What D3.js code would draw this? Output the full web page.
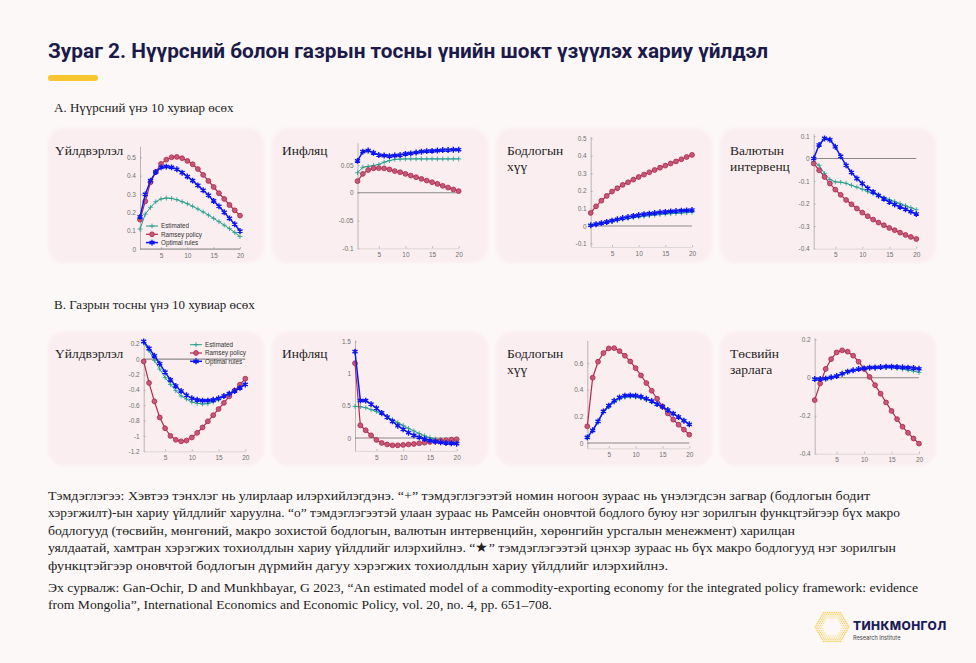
<!DOCTYPE html>
<html>
<head>
<meta charset="utf-8">
<script src="https://cdn.jsdelivr.net/npm/d3@7"></script>
<style>
  body { margin: 0; background: #fcf8f8; }
  svg { display: block; }
</style>
</head>
<body>
<svg id="chart"></svg>
<script>
// Quarters on the horizontal axis
const quarters = [1, 2, 3, 4, 5, 6, 7, 8, 9, 10, 11, 12, 13, 14, 15, 16, 17, 18, 19, 20];
const xTicks = [5, 10, 15, 20];
const seriesNames = ["Estimated", "Ramsey policy", "Optimal rules"];

// A. Coal price shock
const outCoalEst = [0.109, 0.19, 0.227, 0.258, 0.273, 0.278, 0.276, 0.269, 0.258, 0.247, 0.233, 0.218, 0.202, 0.185, 0.167, 0.149, 0.13, 0.111, 0.09, 0.068];
const outCoalRam = [0.16, 0.26, 0.364, 0.42, 0.464, 0.487, 0.5, 0.502, 0.495, 0.48, 0.462, 0.436, 0.404, 0.371, 0.338, 0.304, 0.273, 0.24, 0.211, 0.182];
const outCoalOpt = [0.175, 0.298, 0.373, 0.42, 0.445, 0.449, 0.445, 0.435, 0.416, 0.395, 0.373, 0.347, 0.32, 0.293, 0.262, 0.233, 0.2, 0.167, 0.135, 0.098];

const infCoalEst = [0.036, 0.046, 0.0475, 0.049, 0.051, 0.055, 0.058, 0.06, 0.0606, 0.061, 0.061, 0.061, 0.061, 0.061, 0.061, 0.061, 0.061, 0.061, 0.061, 0.061];
const infCoalRam = [0.021, 0.034, 0.041, 0.044, 0.0444, 0.044, 0.042, 0.039, 0.037, 0.034, 0.031, 0.028, 0.025, 0.022, 0.019, 0.016, 0.0125, 0.0094, 0.006, 0.003];
const infCoalOpt = [0.0575, 0.074, 0.076, 0.072, 0.068, 0.067, 0.066, 0.067, 0.068, 0.07, 0.071, 0.0725, 0.074, 0.075, 0.0755, 0.076, 0.077, 0.077, 0.0775, 0.0775];

const rateCoalEst = [0.003, 0.008, 0.013, 0.019, 0.025, 0.031, 0.037, 0.042, 0.047, 0.051, 0.055, 0.059, 0.062, 0.065, 0.068, 0.07, 0.072, 0.074, 0.076, 0.078];
const rateCoalRam = [0.074, 0.112, 0.144, 0.171, 0.196, 0.215, 0.234, 0.249, 0.264, 0.279, 0.293, 0.306, 0.319, 0.332, 0.344, 0.356, 0.368, 0.38, 0.393, 0.405];
const rateCoalOpt = [0.004, 0.01, 0.016, 0.023, 0.03, 0.038, 0.045, 0.051, 0.057, 0.062, 0.067, 0.07, 0.074, 0.078, 0.08, 0.083, 0.085, 0.087, 0.089, 0.091];

const fxCoalEst = [-0.015, -0.03, -0.067, -0.093, -0.104, -0.105, -0.11, -0.119, -0.127, -0.136, -0.147, -0.156, -0.164, -0.173, -0.182, -0.191, -0.2, -0.209, -0.218, -0.227];
const fxCoalRam = [-0.022, -0.052, -0.082, -0.111, -0.138, -0.161, -0.184, -0.203, -0.222, -0.24, -0.256, -0.271, -0.284, -0.296, -0.308, -0.318, -0.329, -0.339, -0.348, -0.357];
const fxCoalOpt = [0, 0.06, 0.089, 0.083, 0.052, 0.01, -0.03, -0.062, -0.089, -0.111, -0.132, -0.148, -0.164, -0.179, -0.193, -0.204, -0.215, -0.225, -0.236, -0.246];

// B. Oil price shock
const outOilEst = [0.21, 0.11, -0.017, -0.13, -0.24, -0.33, -0.41, -0.48, -0.52, -0.56, -0.575, -0.585, -0.58, -0.56, -0.53, -0.49, -0.445, -0.4, -0.36, -0.315];
const outOilRam = [-0.03, -0.31, -0.55, -0.76, -0.9, -1.0, -1.05, -1.07, -1.06, -1.02, -0.96, -0.89, -0.81, -0.73, -0.65, -0.57, -0.485, -0.41, -0.333, -0.255];
const outOilOpt = [0.23, 0.14, 0.043, -0.06, -0.17, -0.27, -0.35, -0.415, -0.47, -0.51, -0.53, -0.54, -0.54, -0.53, -0.51, -0.48, -0.45, -0.415, -0.375, -0.33];

const infOilEst = [0.49, 0.485, 0.47, 0.44, 0.41, 0.37, 0.33, 0.285, 0.24, 0.195, 0.15, 0.11, 0.07, 0.035, 0.005, -0.015, -0.03, -0.04, -0.045, -0.05];
const infOilRam = [1.16, 0.196, 0.12, 0.041, -0.03, -0.077, -0.1, -0.113, -0.113, -0.108, -0.1, -0.093, -0.082, -0.072, -0.062, -0.052, -0.041, -0.036, -0.026, -0.02];
const infOilOpt = [1.34, 0.58, 0.58, 0.526, 0.464, 0.39, 0.325, 0.258, 0.19, 0.134, 0.082, 0.041, 0.01, -0.015, -0.04, -0.057, -0.067, -0.077, -0.082, -0.088];

const rateOilEst = [0.04, 0.09, 0.155, 0.23, 0.27, 0.305, 0.33, 0.343, 0.347, 0.345, 0.338, 0.325, 0.308, 0.288, 0.268, 0.245, 0.22, 0.195, 0.168, 0.14];
const rateOilRam = [0.125, 0.49, 0.61, 0.675, 0.71, 0.712, 0.69, 0.655, 0.612, 0.562, 0.507, 0.45, 0.392, 0.332, 0.275, 0.222, 0.175, 0.137, 0.1, 0.062];
const rateOilOpt = [0.042, 0.095, 0.162, 0.237, 0.28, 0.317, 0.342, 0.355, 0.357, 0.355, 0.347, 0.332, 0.315, 0.292, 0.272, 0.247, 0.22, 0.195, 0.167, 0.14];

const govOilEst = [-0.007, -0.007, -0.004, 0.002, 0.01, 0.02, 0.03, 0.038, 0.044, 0.048, 0.05, 0.052, 0.053, 0.053, 0.052, 0.049, 0.045, 0.04, 0.035, 0.028];
const govOilRam = [-0.118, -0.03, 0.046, 0.098, 0.133, 0.144, 0.137, 0.116, 0.084, 0.046, 0.004, -0.039, -0.084, -0.13, -0.175, -0.218, -0.258, -0.29, -0.32, -0.347];
const govOilOpt = [-0.007, -0.007, -0.005, 0.002, 0.009, 0.021, 0.032, 0.039, 0.046, 0.049, 0.053, 0.054, 0.056, 0.058, 0.058, 0.057, 0.055, 0.053, 0.051, 0.047];

// Y tick values
const ticksOutCoal = [0, 0.1, 0.2, 0.3, 0.4, 0.5];
const ticksInfCoal = [-0.1, -0.05, 0, 0.05];
const ticksRateCoal = [-0.1, 0, 0.1, 0.2, 0.3, 0.4, 0.5];
const ticksFxCoal = [-0.4, -0.3, -0.2, -0.1, 0, 0.1];
const ticksOutOil = [-1.2, -1, -0.8, -0.6, -0.4, -0.2, 0, 0.2];
const ticksInfOil = [0, 0.5, 1, 1.5];
const ticksRateOil = [0, 0.2, 0.4, 0.6];
const ticksGovOil = [-0.4, -0.2, 0, 0.2];

const width = 976, height = 663;
const colors = { est: "#1f9d8b", ram: "#b3294f", opt: "#0b16f2" };

const svg = d3.select("#chart")
    .attr("width", width)
    .attr("height", height);

svg.append("rect").attr("width", width).attr("height", height).attr("fill", "#fcf8f8");

// Title and yellow bar
svg.append("text")
    .attr("x", 48).attr("y", 58)
    .attr("textLength", 720).attr("lengthAdjust", "spacingAndGlyphs")
    .style("font-family", "Roboto, 'Liberation Sans', sans-serif")
    .style("font-weight", 700).style("font-size", "21px")
    .attr("fill", "#1b1a48")
    .text("Зураг 2. Нүүрсний болон газрын тосны үнийн шокт үзүүлэх хариу үйлдэл");

svg.append("rect")
    .attr("x", 48).attr("y", 75).attr("width", 50).attr("height", 6).attr("rx", 3)
    .attr("fill", "#f7c631");

const serif = "'Liberation Serif', 'DejaVu Serif', serif";

svg.append("text").attr("x", 54).attr("y", 112)
    .style("font-family", serif).style("font-size", "13px").attr("fill", "#222")
    .text("A. Нүүрсний үнэ 10 хувиар өсөх");
svg.append("text").attr("x", 54).attr("y", 309)
    .style("font-family", serif).style("font-size", "13px").attr("fill", "#222")
    .text("B. Газрын тосны үнэ 10 хувиар өсөх");

// Panel layout: card corner, label, pixel box of the plot, y domain
const panels = [
    { card: [48, 128], label: ["Үйлдвэрлэл"], lx: 7, xr: [140, 240], yr: [249, 146.3], dom: [0, 0.56], ticks: ticksOutCoal,
      data: [outCoalEst, outCoalRam, outCoalOpt], legend: [146, 226] },
    { card: [272, 128], label: ["Инфляц"], lx: 10, xr: [357.5, 458.7], yr: [248.3, 142.8], dom: [-0.1, 0.09], ticks: ticksInfCoal,
      data: [infCoalEst, infCoalRam, infCoalOpt] },
    { card: [496, 128], label: ["Бодлогын", "хүү"], lx: 11, xr: [590.7, 692], yr: [247, 136.5], dom: [-0.12, 0.51], ticks: ticksRateCoal,
      data: [rateCoalEst, rateCoalRam, rateCoalOpt] },
    { card: [720, 128], label: ["Валютын", "интервенц"], lx: 10, xr: [813.7, 916.3], yr: [248.7, 133.7], dom: [-0.4, 0.11], ticks: ticksFxCoal,
      data: [fxCoalEst, fxCoalRam, fxCoalOpt] },
    { card: [48, 331], label: ["Үйлдвэрлэл"], lx: 7, xr: [143.7, 245.3], yr: [451.3, 339.9], dom: [-1.2, 0.25], ticks: ticksOutOil,
      data: [outOilEst, outOilRam, outOilOpt], legend: [190, 344.7] },
    { card: [272, 331], label: ["Инфляц"], lx: 10, xr: [355, 456.7], yr: [450.9, 340], dom: [-0.2, 1.52], ticks: ticksInfOil,
      data: [infOilEst, infOilRam, infOilOpt] },
    { card: [496, 331], label: ["Бодлогын", "хүү"], lx: 11, xr: [587.3, 689.3], yr: [448.3, 340.4], dom: [-0.04, 0.77], ticks: ticksRateOil,
      data: [rateOilEst, rateOilRam, rateOilOpt] },
    { card: [720, 331], label: ["Төсвийн", "зарлага"], lx: 10, xr: [814.7, 919], yr: [453.7, 337.8], dom: [-0.4, 0.21], ticks: ticksGovOil,
      data: [govOilEst, govOilRam, govOilOpt] }
];

const cardW = 216, cardH = 135;

// soft edge for the cards
const defs = svg.append("defs");
defs.append("filter").attr("id", "soft")
    .attr("x", "-10%").attr("y", "-10%").attr("width", "120%").attr("height", "120%")
    .append("feGaussianBlur").attr("stdDeviation", 1.5);

const asterisk = d3.symbolAsterisk || d3.symbolCross;
const plus = d3.symbolPlus || d3.symbolCross;

function drawMarkers(g, pts, kind, x, y) {
    if (kind === 0) {
        g.selectAll(null).data(pts).enter().append("path")
            .attr("transform", d => `translate(${x(d[0])},${y(d[1])})`)
            .attr("d", d3.symbol().type(plus).size(9))
            .attr("fill", "none").attr("stroke", colors.est).attr("stroke-width", 0.8);
    } else if (kind === 1) {
        g.selectAll(null).data(pts).enter().append("circle")
            .attr("cx", d => x(d[0])).attr("cy", d => y(d[1])).attr("r", 2.4)
            .attr("fill", "#c25a78").attr("stroke", colors.ram).attr("stroke-width", 0.9);
    } else {
        g.selectAll(null).data(pts).enter().append("path")
            .attr("transform", d => `translate(${x(d[0])},${y(d[1])})`)
            .attr("d", d3.symbol().type(asterisk).size(24))
            .attr("fill", colors.opt).attr("stroke", colors.opt).attr("stroke-width", 1.4);
    }
}

panels.forEach(p => {
    const g = svg.append("g");
    const [cx, cy] = p.card;

    g.append("rect")
        .attr("x", cx).attr("y", cy).attr("width", cardW).attr("height", cardH).attr("rx", 16)
        .attr("fill", "#fbeef0").attr("filter", "url(#soft)");

    p.label.forEach((t, i) => {
        g.append("text")
            .attr("x", cx + p.lx).attr("y", cy + 27 + i * 16)
            .style("font-family", serif).style("font-size", "13.5px").attr("fill", "#1e1e1e")
            .text(t);
    });

    const x = d3.scaleLinear().domain([1, 20]).range(p.xr);
    const y = d3.scaleLinear().domain(p.dom).range(p.yr);

    // axes
    const yAxis = g.append("g")
        .attr("transform", `translate(${p.xr[0]},0)`)
        .call(d3.axisLeft(y).tickValues(p.ticks).tickSizeInner(-2).tickSizeOuter(0).tickPadding(4)
            .tickFormat(d => String(+d.toFixed(3))));
    const xAxis = g.append("g")
        .attr("transform", `translate(0,${p.yr[0]})`)
        .call(d3.axisBottom(x).tickValues(xTicks).tickSizeInner(-2).tickSizeOuter(0).tickPadding(4));

    [yAxis, xAxis].forEach(a => {
        a.select(".domain").attr("stroke", "#a9a6a6").attr("stroke-width", 0.8);
        a.selectAll(".tick line").attr("stroke", "#a9a6a6").attr("stroke-width", 0.7);
        a.selectAll("text")
            .style("font-family", "'Liberation Sans', Arial, sans-serif")
            .style("font-size", "6.5px").attr("fill", "#707070");
    });
    xAxis.select(".domain").attr("stroke", "#d6d0d1");

    // zero line
    g.append("line")
        .attr("x1", x(1)).attr("x2", x(20)).attr("y1", y(0)).attr("y2", y(0))
        .attr("stroke", "#8b8888").attr("stroke-width", 1.1);

    const line = d3.line().x(d => x(d[0])).y(d => y(d[1]));
    const strokeW = [1, 1.2, 1.5];
    const cols = [colors.est, colors.ram, colors.opt];

    p.data.forEach((vals, k) => {
        const pts = quarters.map((q, i) => [q, vals[i]]);
        g.append("path").datum(pts)
            .attr("d", line).attr("fill", "none")
            .attr("stroke", cols[k]).attr("stroke-width", strokeW[k]);
        drawMarkers(g, pts, k, x, y);
    });

    // legend
    if (p.legend) {
        const [lx, ly] = p.legend;
        seriesNames.forEach((name, k) => {
            const yy = ly + k * 8.3;
            g.append("line").attr("x1", lx).attr("x2", lx + 12).attr("y1", yy).attr("y2", yy)
                .attr("stroke", cols[k]).attr("stroke-width", strokeW[k]);
            drawMarkers(g, [[0, 0]], k, () => lx + 6, () => yy);
            g.append("text").attr("x", lx + 15).attr("y", yy + 2.2)
                .style("font-family", "'Liberation Sans', Arial, sans-serif")
                .style("font-size", "6.3px").attr("fill", "#333")
                .text(name);
        });
    }
});

// Note and source, each line stretched to the width it has in the original
const noteLines = [
    "Тэмдэглэгээ: Хэвтээ тэнхлэг нь улирлаар илэрхийлэгдэнэ. “+” тэмдэглэгээтэй номин ногоон зураас нь үнэлэгдсэн загвар (бодлогын бодит",
    "хэрэгжилт)-ын хариу үйлдлийг харуулна. “o” тэмдэглэгээтэй улаан зураас нь Рамсейн оновчтой бодлого буюу нэг зорилгын функцтэйгээр бүх макро",
    "бодлогууд (төсвийн, мөнгөний, макро зохистой бодлогын, валютын интервенцийн, хөрөнгийн урсгалын менежмент) харилцан",
    "уялдаатай, хамтран хэрэгжих тохиолдлын хариу үйлдлийг илэрхийлнэ. “★” тэмдэглэгээтэй цэнхэр зураас нь бүх макро бодлогууд нэг зорилгын",
    "функцтэйгээр оновчтой бодлогын дүрмийн дагуу хэрэгжих тохиолдлын хариу үйлдлийг илэрхийлнэ."
];
const noteWidths = [822, 852, 747, 848, 620];
const sourceLines = [
    "Эх сурвалж: Gan-Ochir, D and Munkhbayar, G 2023, “An estimated model of a commodity-exporting economy for the integrated policy framework: evidence",
    "from Mongolia”, International Economics and Economic Policy, vol. 20, no. 4, pp. 651–708."
];
const sourceWidths = [870, 504];

noteLines.forEach((t, i) => {
    svg.append("text").attr("x", 48).attr("y", 500 + i * 17.4)
        .attr("textLength", noteWidths[i]).attr("lengthAdjust", "spacingAndGlyphs")
        .style("font-family", serif).style("font-size", "13.5px").attr("fill", "#222")
        .text(t);
});
sourceLines.forEach((t, i) => {
    svg.append("text").attr("x", 48).attr("y", 592 + i * 17.4)
        .attr("textLength", sourceWidths[i]).attr("lengthAdjust", "spacingAndGlyphs")
        .style("font-family", serif).style("font-size", "13.5px").attr("fill", "#222")
        .text(t);
});

// Logo: hexagon made of dots
const logo = svg.append("g").attr("transform", "translate(832,627)");
const hexDist = (px, py) => {
    const ax = Math.abs(px), ay = Math.abs(py);
    return Math.max(ax * Math.sqrt(3) / 2 + ay / 2, ay);
};
const dots = [];
for (let r = -9; r <= 9; r++) {
    for (let c = -9; c <= 9; c++) {
        const px = (c + (r % 2 ? 0.5 : 0)) * 2.1;
        const py = r * 1.82;
        const d = hexDist(px, py);
        if (d <= 15 && d >= 8.5) dots.push([px, py, d]);
    }
}
logo.selectAll("circle").data(dots).enter().append("circle")
    .attr("cx", d => d[0]).attr("cy", d => d[1]).attr("r", 0.75)
    .attr("fill", "#f5c530").attr("opacity", d => 0.35 + 0.6 * (d[2] - 8.5) / 6.5);

svg.append("text").attr("x", 853).attr("y", 630)
    .style("font-family", "Inter, Roboto, sans-serif").style("font-weight", 800)
    .style("font-size", "12px").style("letter-spacing", "0.4px")
    .attr("fill", "#1d1c5a").text("ТИНКМОНГОЛ");
svg.append("text").attr("x", 853).attr("y", 640)
    .style("font-family", "Inter, Roboto, sans-serif")
    .style("font-size", "5.6px").attr("fill", "#444")
    .text("Research Institute");
</script>
</body>
</html>
